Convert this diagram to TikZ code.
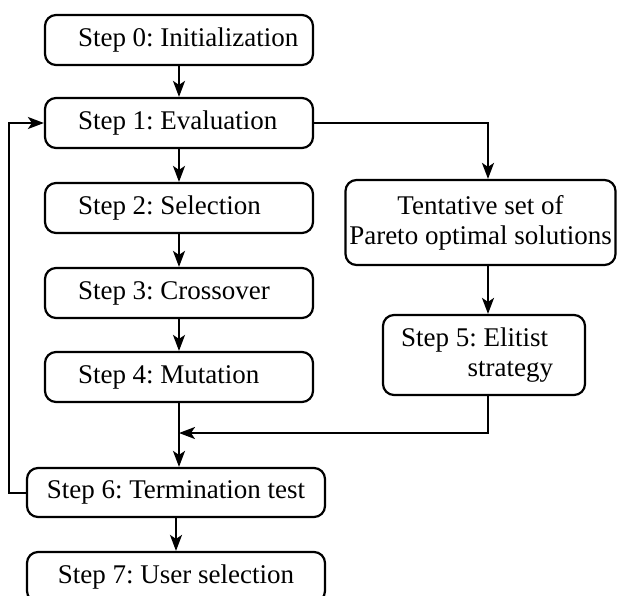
\documentclass[tikz,border=0pt]{standalone}
\usepackage{fontspec}
\setmainfont{Liberation Serif}
\usetikzlibrary{arrows.meta,calc}
\newcommand\leftlab[1]{\makebox[268pt][l]{\hspace{33pt}#1}}
\begin{document}
\frenchspacing
\begin{tikzpicture}[x=1pt,y=-1pt,
  box/.style={draw,line width=2.2pt,rounded corners=11pt,inner sep=0pt,font=\fontsize{27}{30}\selectfont},
  lbox/.style={box,minimum width=268pt,minimum height=50pt},
  flow/.style={line width=2pt,-{Stealth[length=16pt,width=12pt,inset=4pt]}}]
\useasboundingbox (0,0) rectangle (617,595);
\clip (0,0) rectangle (617,595);
\node[lbox] (s0) at (179,40) {\leftlab{Step 0: Initialization}};
\node[lbox] (s1) at (179,123) {\leftlab{Step 1: Evaluation}};
\node[lbox] (s2) at (179,208) {\leftlab{Step 2: Selection}};
\node[lbox] (s3) at (179,293) {\leftlab{Step 3: Crossover}};
\node[lbox] (s4) at (179,377) {\leftlab{Step 4: Mutation}};
\node[box,minimum width=298pt,minimum height=49pt] (s6) at (176,492.5) {Step 6: Termination test};
\node[box,minimum width=298pt,minimum height=50pt] (s7) at (176,577) {Step 7: User selection};
\node[box,minimum width=270pt,minimum height=85pt,align=center] (par) at (480.5,222.5) {Tentative set of\\Pareto optimal solutions};
\node[box,minimum width=202pt,minimum height=80pt,align=right] (s5) at (484,355) {Step 5: Elitist\hspace*{19pt}\\strategy\hspace*{14pt}};
\coordinate (j) at (488,433);
\draw[flow] (s0) -- (s1);
\draw[flow] (s1) -- (s2);
\draw[flow] (s2) -- (s3);
\draw[flow] (s3) -- (s4);
\draw[flow] (s4.south) -- (s4.south |- s6.north);
\draw[flow] (j |- s5.south) -- (j) -- (j -| s4.south);
\draw[flow] (s1.east) -| (j |- par.north);
\draw[flow] (j |- par.south) -- (j |- s5.north);
\draw[flow] (s6.south) -- (s7.north);
\draw[flow] (s6.west) -- ++(-17,0) |- (s1.west);
\end{tikzpicture}
\end{document}
